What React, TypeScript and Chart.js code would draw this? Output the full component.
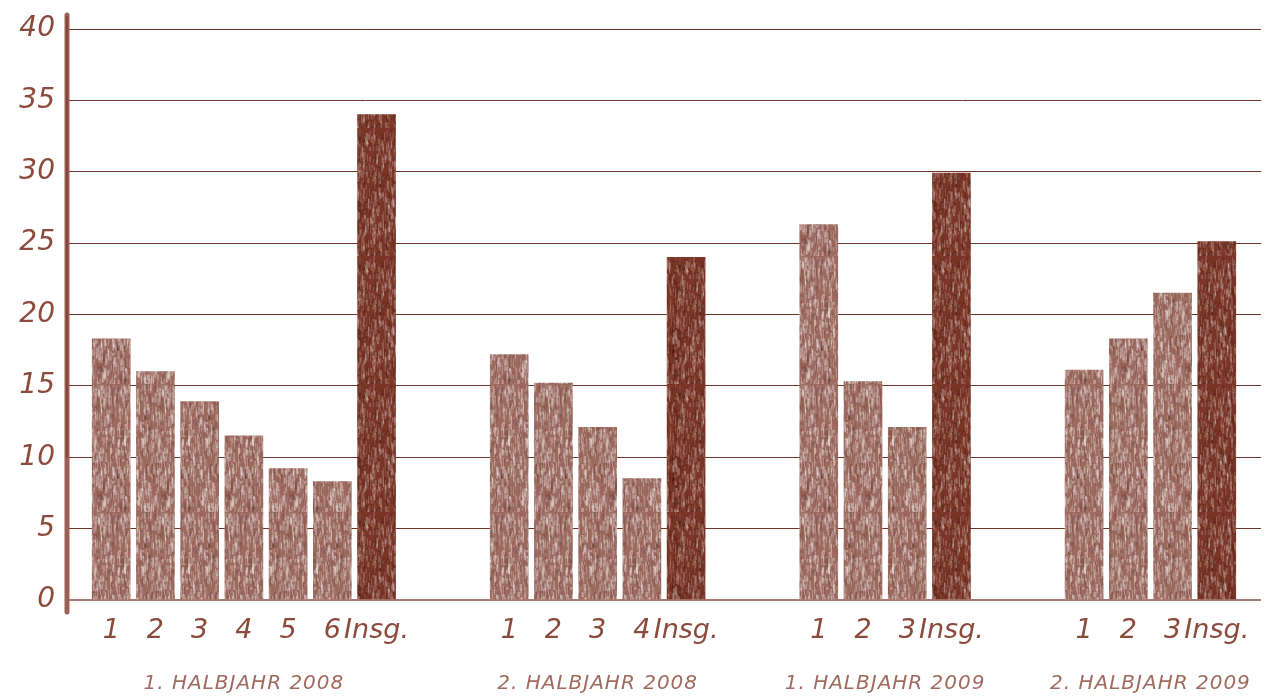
import { useEffect, useRef } from 'react';
import { Chart, registerables } from 'chart.js';
Chart.register(...registerables);

const groupLabels = ['1. HALBJAHR 2008', '2. HALBJAHR 2008', '1. HALBJAHR 2009', '2. HALBJAHR 2009'];
const groupCategories = [
  ['1', '2', '3', '4', '5', '6', 'Insg.'],
  ['1', '2', '3', '4', 'Insg.'],
  ['1', '2', '3', 'Insg.'],
  ['1', '2', '3', 'Insg.'],
];
const values2008H1 = [18.3, 16.0, 13.9, 11.5, 9.2, 8.3, 34.0];
const values2008H2 = [17.2, 15.2, 12.1, 8.5, 24.0];
const values2009H1 = [26.3, 15.3, 12.1, 29.9];
const values2009H2 = [16.1, 18.3, 21.5, 25.1];
const groupValues = [values2008H1, values2008H2, values2009H1, values2009H2];
const yTicks = [0, 5, 10, 15, 20, 25, 30, 35, 40];

const LIGHT = '#9c6a5f';
const DARK = '#7a3526';
const TEXT = '#8a4a3c';

function makePattern(base: string, seed: number, light: boolean): CanvasPattern | string {
  const c = document.createElement('canvas');
  c.width = 64;
  c.height = 128;
  const x = c.getContext('2d');
  if (!x) return base;
  x.fillStyle = base;
  x.fillRect(0, 0, 64, 128);
  let s = seed;
  const rnd = () => {
    s = (s * 1664525 + 1013904223) % 4294967296;
    return s / 4294967296;
  };
  for (let i = 0; i < 900; i++) {
    const px = rnd() * 64;
    const py = rnd() * 128;
    const len = 2 + rnd() * 9;
    const r = rnd();
    x.fillStyle = r < 0.65
      ? `rgba(255,255,255,${light ? 0.3 : 0.2})`
      : `rgba(70,20,10,${light ? 0.15 : 0.28})`;
    x.fillRect(px, py, 1 + (rnd() < 0.3 ? 1 : 0), len);
  }
  return x.createPattern(c, 'repeat') || base;
}

export default function App() {
  const ref = useRef<HTMLCanvasElement | null>(null);

  useEffect(() => {
    if (!ref.current) return;
    const labels: string[] = [''];
    const values: (number | null)[] = [null];
    const kinds: string[] = ['none'];
    const ranges: [number, number][] = [];
    groupCategories.forEach((cats, g) => {
      const start = labels.length;
      cats.forEach((c, i) => {
        labels.push(c);
        values.push(groupValues[g][i]);
        kinds.push(c === 'Insg.' ? 'dark' : 'light');
      });
      ranges.push([start, labels.length - 1]);
      if (g < groupCategories.length - 1) {
        labels.push('', '');
        values.push(null, null);
        kinds.push('none', 'none');
      }
    });
    labels.push('');
    values.push(null);
    kinds.push('none');

    const lightPat = makePattern(LIGHT, 12345, true);
    const darkPat = makePattern(DARK, 67890, false);
    const colors = kinds.map((k) => (k === 'dark' ? darkPat : lightPat));

    const groupLabelPlugin = {
      id: 'groupLabels',
      afterDraw(chart: any) {
        const ctx = chart.ctx;
        const xs = chart.scales.x;
        const ys = chart.scales.y;
        const ax = chart.chartArea.left;
        ctx.save();
        ctx.lineCap = 'round';
        ctx.strokeStyle = '#9a6154';
        ctx.lineWidth = 5;
        ctx.beginPath();
        ctx.moveTo(ax, ys.getPixelForValue(40) - 14);
        ctx.lineTo(ax, ys.getPixelForValue(0) + 12);
        ctx.stroke();
        ctx.strokeStyle = 'rgba(110,40,25,0.45)';
        ctx.lineWidth = 2;
        ctx.beginPath();
        ctx.moveTo(ax, ys.getPixelForValue(40) - 12);
        ctx.lineTo(ax, ys.getPixelForValue(10));
        ctx.stroke();
        ctx.fillStyle = '#a06a5f';
        ctx.font = 'italic 20px "DejaVu Sans"';
        ctx.textAlign = 'center';
        ctx.textBaseline = 'middle';
        try { (ctx as any).letterSpacing = '1px'; } catch (e) { /* ignore */ }
        ranges.forEach(([a, b], g) => {
          const cx = (xs.getPixelForValue(a) + xs.getPixelForValue(b)) / 2;
          ctx.fillText(groupLabels[g], cx, 684);
        });
        ctx.restore();
      },
    };

    const chart = new Chart(ref.current, {
      type: 'bar',
      data: {
        labels,
        datasets: [
          {
            data: values,
            backgroundColor: colors as any,
            borderWidth: 0,
            barThickness: 38,
          },
        ],
      },
      options: {
        animation: false,
        responsive: true,
        maintainAspectRatio: false,
        layout: { padding: { top: 29, right: 6, left: 0, bottom: 0 } },
        plugins: { legend: { display: false }, tooltip: { enabled: false } },
        scales: {
          x: {
            offset: false,
            grid: { display: false },
            border: { display: false },
            ticks: {
              autoSkip: false,
              maxRotation: 0,
              padding: 7,
              color: TEXT,
              font: { family: 'DejaVu Sans', size: 27, style: 'italic' },
            },
            afterFit(scale: any) {
              scale.height = 97;
            },
          },
          y: {
            min: 0,
            max: 40,
            z: 1,
            border: { display: false },
            grid: {
              drawTicks: false,
              color: (c: any) => (c.tick && c.tick.value === 0 ? '#a87b72' : '#6e3426'),
              lineWidth: (c: any) => (c.tick && c.tick.value === 0 ? 2 : 1),
            },
            afterBuildTicks(scale: any) {
              scale.ticks = yTicks.map((v) => ({ value: v }));
            },
            ticks: {
              padding: 12,
              color: TEXT,
              font: { family: 'DejaVu Sans', size: 28, style: 'italic' },
            },
            afterFit(scale: any) {
              scale.width = 67;
            },
          },
        },
      },
      plugins: [groupLabelPlugin],
    });
    return () => chart.destroy();
  }, []);

  return (
    <div style={{ position: 'fixed', left: 0, top: 0, width: 1268, height: 697, background: '#fff' }}>
      <canvas ref={ref} />
    </div>
  );
}
